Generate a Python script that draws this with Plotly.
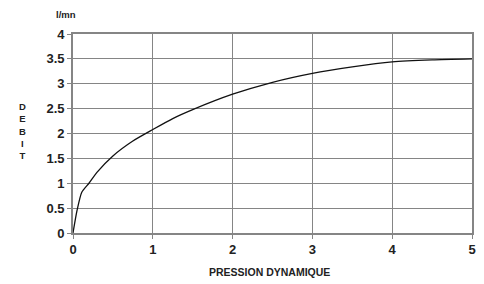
import plotly.graph_objects as go

pression = [0, 0.05, 0.11, 0.2, 0.3, 0.5, 0.75, 1.0, 1.25, 1.5, 2.0, 2.5, 3.0, 3.5, 4.0, 4.5, 5.0]
debit = [0, 0.45, 0.82, 1.0, 1.22, 1.55, 1.85, 2.08, 2.3, 2.48, 2.79, 3.03, 3.21, 3.34, 3.44, 3.48, 3.5]

x_ticks = [0, 1, 2, 3, 4, 5]
y_ticks = [0, 0.5, 1, 1.5, 2, 2.5, 3, 3.5, 4]
y_labels = ["0", "0.5", "1", "1.5", "2", "2.5", "3", "3.5", "4"]

# page body has an 8px margin; compensate so plot area lands at 73..472 x 34..233
OFF = 8
W, H = 484 - OFF, 284 - OFF
L, T = 73 - OFF, 34 - OFF
PW, PH = 399, 199
R, B = W - L - PW, H - T - PH

fig = go.Figure()
fig.add_trace(go.Scatter(x=pression, y=debit, mode="lines",
                         line=dict(color="#111111", width=1.3, shape="spline", smoothing=0.6),
                         hoverinfo="skip"))

axis_common = dict(showgrid=True, gridcolor="#858585", gridwidth=1.2,
                   showline=True, linecolor="#858585", linewidth=1.6, mirror=True,
                   ticks="outside", ticklen=4, tickcolor="#858585",
                   zeroline=False,
                   tickfont=dict(family="Liberation Sans, Arial", size=13, color="#222222", weight="bold"))

fig.update_xaxes(range=[0, 5], tickvals=x_ticks, ticktext=[f"<b>{v}</b>" for v in x_ticks], **axis_common)
fig.update_yaxes(range=[0, 4], tickvals=y_ticks, ticktext=[f"<b>{v}</b>" for v in y_labels], **axis_common)

fig.update_layout(width=W, height=H, margin=dict(l=L, r=R, t=T, b=B, autoexpand=False),
                  plot_bgcolor="white", paper_bgcolor="white", showlegend=False,
                  font=dict(family="Liberation Sans, Arial", color="#222222"))

def px(x):
    return (x - 73) / PW

def py(y):
    return (233 - y) / PH

anns = [
    dict(text="<b>l/mn</b>", x=px(66), y=py(14), size=9.5),
    dict(text="<b>D<br>E<br>B<br>I<br>T</b>", x=px(22), y=py(131), size=9.5),
    dict(text="<b>PRESSION DYNAMIQUE</b>", x=px(269), y=py(272), size=10.5),
]
for a in anns:
    size = a.pop("size")
    fig.add_annotation(xref="paper", yref="paper", showarrow=False, xanchor="center", yanchor="middle",
                       font=dict(size=size, weight="bold", family="Liberation Sans, Arial"), **a)

fig.write_html("out.html")
